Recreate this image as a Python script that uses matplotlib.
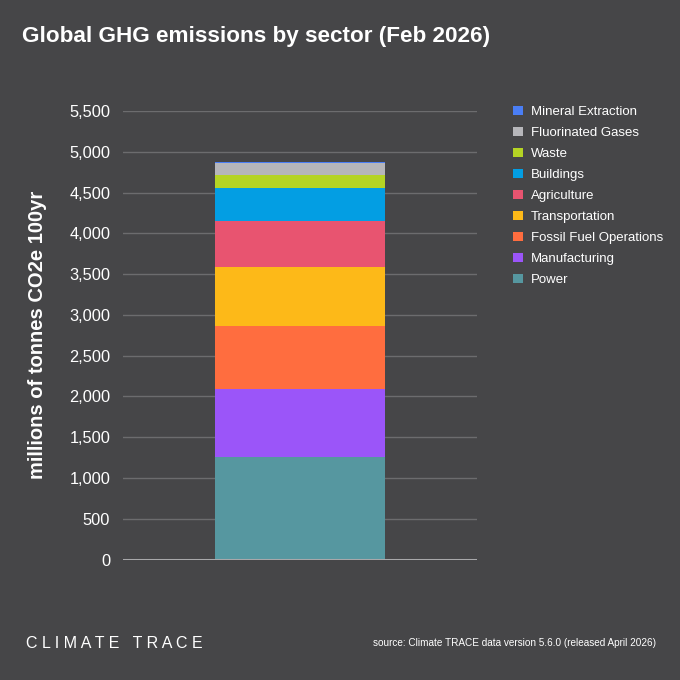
import matplotlib
matplotlib.use("Agg")
from matplotlib import pyplot as plt
from matplotlib.patches import Patch

# sectors from bottom of the stack to the top
sectors = ['Power', 'Manufacturing', 'Fossil Fuel Operations', 'Transportation',
           'Agriculture', 'Buildings', 'Waste', 'Fluorinated Gases', 'Mineral Extraction']
emissions = [1251, 838, 780, 723, 560, 408, 156, 150, 6]
colors = ['#5697a0', '#9b55f9', '#ff6d3f', '#fdb918', '#e85470',
          '#039ee3', '#b5d424', '#b6b6ba', '#4a7ef5']
yticks = list(range(0, 5501, 500))

bg = '#464648'
plt.rcParams['font.family'] = ['Liberation Sans', 'DejaVu Sans']

fig = plt.figure(figsize=(6.8, 6.8), dpi=100, facecolor=bg)
ax = fig.add_axes([0.1804, 0.1772, 0.5206, 0.6596], facecolor=bg)

bottom = 0
for name, val, col in zip(sectors, emissions, colors):
    ax.bar(0, val, width=0.48, bottom=bottom, color=col, label=name, zorder=3)
    bottom += val

ax.set_xlim(-0.5, 0.5)
ax.set_ylim(0, 5500)
ax.set_yticks(yticks)
ax.set_yticklabels([f'{v:,}' for v in yticks], color='white', fontsize=11.8)
ax.set_xticks([])
ax.tick_params(axis='y', length=0, pad=9)
for s in ax.spines.values():
    s.set_visible(False)
for v in yticks[1:]:
    ax.axhline(v, color='#6c6c6e', lw=1, zorder=1)
ax.axhline(0, color='#a8a8aa', lw=2.2, zorder=4)

ax.set_ylabel('millions of tonnes CO2e 100yr', color='white', fontsize=14.5,
              fontweight='bold', labelpad=16)

fig.text(0.033, 0.946, 'Global GHG emissions by sector (Feb 2026)', color='white',
         fontsize=16.2, fontweight='bold', va='center', ha='left')

handles = [Patch(facecolor=c, edgecolor='none') for c in colors][::-1]
leg = fig.legend(handles, sectors[::-1], loc='upper left', bbox_to_anchor=(0.737, 0.862),
                 frameon=False, fontsize=9.5, labelcolor='white', handlelength=0.75,
                 handleheight=0.75, handletextpad=0.6, labelspacing=0.65)

fig.text(0.038, 0.054, 'C L I M A T E   T R A C E', color='white', fontsize=11.5,
         va='center', ha='left')
fig.text(0.964, 0.054, 'source: Climate TRACE data version 5.6.0 (released April 2026)',
         color='white', fontsize=7.2, va='center', ha='right')

fig.savefig('out.png', facecolor=bg)
